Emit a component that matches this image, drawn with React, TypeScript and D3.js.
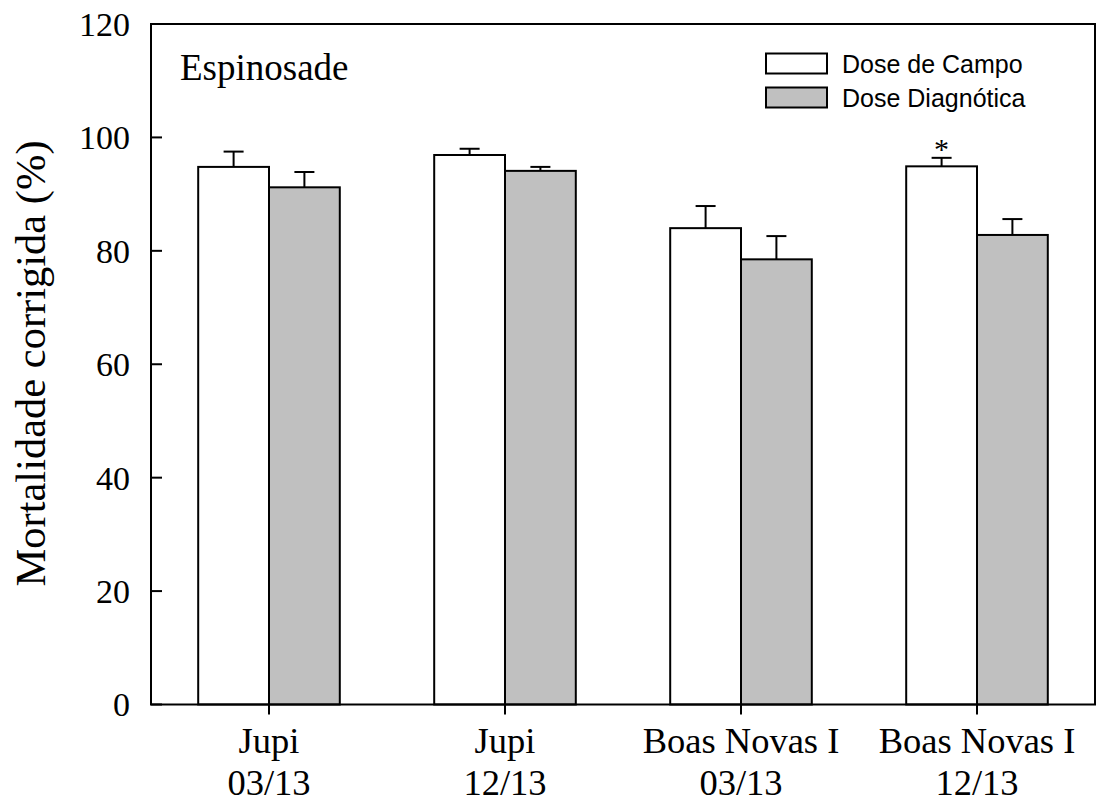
import React from "react";
import * as d3 from "d3";

const categories = ["Jupi|03/13", "Jupi|12/13", "Boas Novas I|03/13", "Boas Novas I|12/13"];
const seriesNames = ["Dose de Campo", "Dose Diagnótica"];
const campoValues = [94.8, 96.9, 84.0, 94.9];
const campoErrors = [2.7, 1.1, 3.9, 1.5];
const diagValues = [91.2, 94.1, 78.5, 82.8];
const diagErrors = [2.7, 0.7, 4.1, 2.8];
const yTicks = [0, 20, 40, 60, 80, 100, 120];
const significance = ["", "", "", "*"];

const W = 1097;
const H = 802;
const M = { left: 151, right: 1095, top: 24, bottom: 704.5 };
const FILLS = ["#ffffff", "#c0c0c0"];
const SERIF = "'Liberation Serif', 'Times New Roman', serif";
const SANS = "'Liberation Sans', Arial, sans-serif";

export default function App() {
  const x = d3.scaleBand<string>().domain(categories).range([M.left, M.right]).paddingInner(0.4).paddingOuter(0.2);
  const xi = d3.scaleBand<string>().domain(seriesNames).range([0, x.bandwidth()]);
  const y = d3.scaleLinear().domain([0, 120]).range([M.bottom, M.top]);

  const series = [
    { name: seriesNames[0], values: campoValues, errors: campoErrors },
    { name: seriesNames[1], values: diagValues, errors: diagErrors },
  ];

  return (
    <svg width={W} height={H} style={{ position: "absolute", left: 0, top: 0, background: "#fff" }}>
      {series.map((s, si) =>
        categories.map((c, ci) => {
          const x0 = (x(c) as number) + (xi(s.name) as number);
          const bw = xi.bandwidth();
          const yTop = y(s.values[ci]);
          const yErr = y(s.values[ci] + s.errors[ci]);
          const cx = x0 + bw / 2;
          return (
            <g key={`${si}-${ci}`}>
              <line x1={cx} x2={cx} y1={yTop} y2={yErr} stroke="#000" strokeWidth={2} />
              <line x1={cx - 10} x2={cx + 10} y1={yErr} y2={yErr} stroke="#000" strokeWidth={2} />
              <rect x={x0} y={yTop} width={bw} height={M.bottom - yTop} fill={FILLS[si]} stroke="#000" strokeWidth={2} />
            </g>
          );
        })
      )}
      {categories.map((c, ci) =>
        significance[ci] ? (
          <text key={"sig" + ci} x={(x(c) as number) + (xi(seriesNames[0]) as number) + xi.bandwidth() / 2}
            y={y(campoValues[ci] + campoErrors[ci]) + 1} textAnchor="middle" fontFamily={SERIF} fontSize={30}>
            {significance[ci]}
          </text>
        ) : null
      )}
      <rect x={M.left} y={M.top} width={M.right - M.left} height={M.bottom - M.top} fill="none" stroke="#000" strokeWidth={2} />
      {yTicks.map((t) => (
        <g key={"y" + t}>
          <line x1={M.left} x2={M.left + 11} y1={y(t)} y2={y(t)} stroke="#000" strokeWidth={2} />
          <text x={130} y={y(t)} dy="0.35em" textAnchor="end" fontFamily={SERIF} fontSize={34}>{t}</text>
        </g>
      ))}
      {categories.map((c) => {
        const cx = (x(c) as number) + x.bandwidth() / 2;
        const [l1, l2] = c.split("|");
        return (
          <g key={"x" + c}>
            <line x1={cx} x2={cx} y1={M.bottom} y2={M.bottom + 10} stroke="#000" strokeWidth={2} />
            <text x={cx} y={753} textAnchor="middle" fontFamily={SERIF} fontSize={36.5}>{l1}</text>
            <text x={cx} y={795} textAnchor="middle" fontFamily={SERIF} fontSize={36.5}>{l2}</text>
          </g>
        );
      })}
      <text transform="translate(45,363.5) rotate(-90)" textAnchor="middle" fontFamily={SERIF} fontSize={42.5}>
        Mortalidade corrigida (%)
      </text>
      <text x={180} y={80} fontFamily={SERIF} fontSize={37}>Espinosade</text>
      {seriesNames.map((n, i) => (
        <g key={"lg" + i} transform={`translate(766,${53.5 + i * 34})`}>
          <rect x={0} y={0} width={61} height={20} fill={FILLS[i]} stroke="#000" strokeWidth={2} />
          <text x={76} y={19.5} fontFamily={SANS} fontSize={25}>{n}</text>
        </g>
      ))}
    </svg>
  );
}
